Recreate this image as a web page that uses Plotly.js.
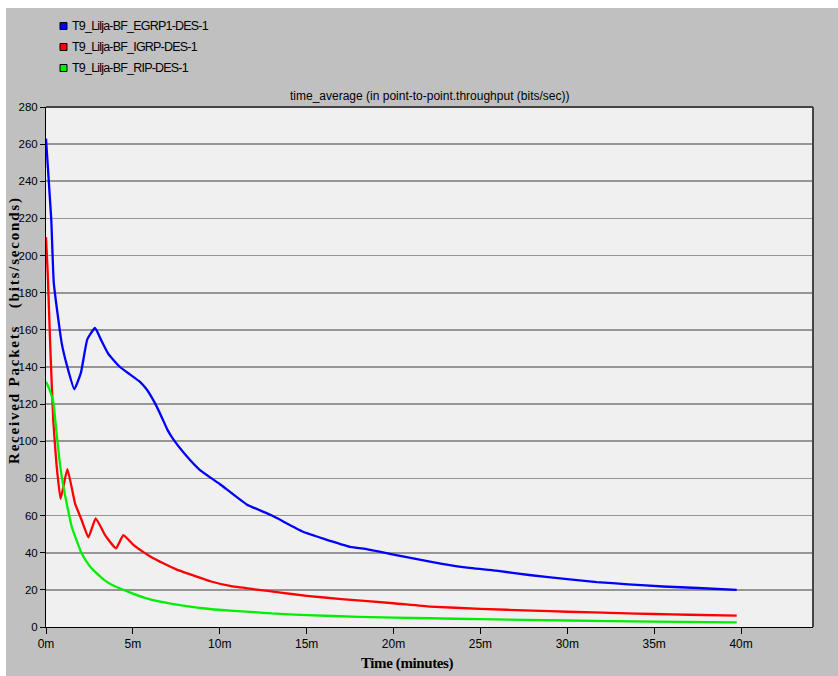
<!DOCTYPE html>
<html>
<head>
<meta charset="utf-8">
<script src="https://cdn.plot.ly/plotly-3.0.1.min.js"></script>
<style>
html,body{margin:0;padding:0;background:#ffffff;}
#chart{position:absolute;left:0;top:0;width:838px;height:676px;}
</style>
</head>
<body>
<div id="chart"></div>
<script>
// Series names
const seriesNames = ["T9_Lilja-BF_EGRP1-DES-1", "T9_Lilja-BF_IGRP-DES-1", "T9_Lilja-BF_RIP-DES-1"];
const seriesColors = ["#0000ff", "#ff0000", "#00ee00"];

// EGRP1 (blue) — time in minutes, value in bits/sec
const egrpTime = [0, 0.3, 0.45, 0.9, 1.2, 1.63, 2.01, 2.38, 2.82, 3.2, 3.59, 4.26, 4.83, 5.41, 5.79, 6.0, 6.3, 6.66, 7.0, 7.33, 8.0, 8.86, 10.0, 11.55, 13.0, 14.8, 16.0, 17.5, 18.5, 20.0, 22.1, 24.0, 25.9, 27.8, 30.0, 31.7, 33.5, 35.5, 37.5, 39.75];
const egrpValue = [263, 220, 185, 153, 141, 128, 137, 155, 161, 154, 147, 140, 136, 132, 128, 125, 120, 113, 106, 101, 93, 84.5, 77, 66, 60, 51.3, 47.5, 43.2, 41.8, 39, 35.2, 32.2, 30.3, 28, 25.8, 24.2, 23, 21.8, 21, 20];

// IGRP (red)
const igrpTime = [0, 0.1, 0.25, 0.42, 0.6, 0.84, 1.23, 1.67, 2.05, 2.44, 2.86, 3.4, 4.03, 4.45, 5.03, 5.5, 6.0, 6.75, 7.5, 8.67, 9.5, 10.59, 12.0, 13.5, 15.0, 17.0, 20.0, 22.1, 25.0, 28.0, 30.0, 33.0, 35.0, 37.0, 39.75];
const igrpValue = [210, 190, 150, 111, 88, 69, 85, 66.6, 57.6, 48.3, 58.5, 49.5, 42.4, 49.5, 44.2, 41, 38, 34.3, 31, 27.1, 24.5, 22.1, 20.3, 18.5, 16.8, 15, 12.8, 11, 9.8, 8.8, 8.2, 7.5, 7.0, 6.6, 6.1];

// RIP (green)
const ripTime = [0, 0.2, 0.42, 0.6, 0.8, 1.0, 1.48, 2.05, 2.5, 2.92, 3.4, 3.87, 5.0, 5.79, 6.5, 7.71, 9.0, 10.59, 12.0, 13.0, 15.0, 18.0, 22.1, 25.0, 30.0, 35.0, 39.75];
const ripValue = [132, 128, 121, 105, 88, 75.6, 54, 39.7, 33, 28.9, 25, 22.3, 18, 15.4, 13.8, 11.8, 10.1, 8.8, 8.0, 7.3, 6.4, 5.5, 4.7, 4.2, 3.5, 2.9, 2.5];

// Axis ticks
const xTickVals = [0, 5, 10, 15, 20, 25, 30, 35, 40];
const xTickText = ["0m", "5m", "10m", "15m", "20m", "25m", "30m", "35m", "40m"];
const yTickVals = [0, 20, 40, 60, 80, 100, 120, 140, 160, 180, 200, 220, 240, 260, 280];

const chartTitle = "time_average (in point-to-point.throughput (bits/sec))";
const yTitle = "Received Packets   (bits/seconds)";
const xTitle = "Time (minutes)";

const sans = "Liberation Sans, Arial, sans-serif";
const serif = "Liberation Serif, Times New Roman, serif";

const xs = [egrpTime, igrpTime, ripTime];
const ys = [egrpValue, igrpValue, ripValue];

const traces = xs.map((x, i) => ({
  x: x, y: ys[i], type: "scatter", mode: "lines",
  name: seriesNames[i], showlegend: false,
  line: {color: seriesColors[i], width: 2.3, shape: "spline", smoothing: 0.4},
  hoverinfo: "skip"
}));

// Page geometry (pixels) -> paper coords
const W = 838, H = 676;
const mL = 46, mR = 25, mT = 107, mB = 49;
const pw = W - mL - mR, ph = H - mT - mB;
function px2x(px){ return (px - mL) / pw; }
function py2y(py){ return 1 - (py - mT) / ph; }

const shapes = [];
const annotations = [];

// white page strips at top and left (outside the gray panel)
shapes.push({type: "rect", xref: "paper", yref: "paper", layer: "below",
  x0: px2x(0), x1: px2x(W), y0: py2y(8), y1: py2y(0), fillcolor: "#ffffff", line: {width: 0}});
shapes.push({type: "rect", xref: "paper", yref: "paper", layer: "below",
  x0: px2x(0), x1: px2x(6), y0: py2y(H), y1: py2y(0), fillcolor: "#ffffff", line: {width: 0}});

const legendY = [26, 47, 68];
seriesNames.forEach((n, i) => {
  shapes.push({type: "rect", xref: "paper", yref: "paper",
    x0: px2x(60), x1: px2x(67), y0: py2y(legendY[i] + 3.5), y1: py2y(legendY[i] - 3.5),
    fillcolor: seriesColors[i], line: {color: "#000", width: 1}});
  annotations.push({xref: "paper", yref: "paper", x: px2x(70), y: py2y(legendY[i]),
    xanchor: "left", yanchor: "middle", showarrow: false,
    text: '<span style="letter-spacing:-0.8px">' + n + '</span>',
    font: {family: sans, size: 12.5, color: "#000"}});
});
// frame top/right
shapes.push({type: "line", xref: "paper", yref: "paper", x0: 0, x1: 1, y0: 1, y1: 1, line: {color: "#444", width: 2}});
shapes.push({type: "line", xref: "paper", yref: "paper", x0: 1, x1: 1, y0: 0, y1: 1, line: {color: "#444", width: 2}});

annotations.push({xref: "paper", yref: "paper", x: 0.5, y: py2y(96), xanchor: "center", yanchor: "middle",
  showarrow: false, text: chartTitle, font: {family: sans, size: 12, color: "#000"}});
annotations.push({xref: "paper", yref: "paper", x: px2x(14), y: py2y(330), xanchor: "center", yanchor: "middle",
  showarrow: false, textangle: -90,
  text: '<span style="letter-spacing:1.8px"><b>' + yTitle + '</b></span>',
  font: {family: serif, size: 15, color: "#000"}});
annotations.push({xref: "paper", yref: "paper", x: px2x(407), y: py2y(663), xanchor: "center", yanchor: "middle",
  showarrow: false, text: '<span style="letter-spacing:-0.4px"><b>' + xTitle + '</b></span>',
  font: {family: serif, size: 15, color: "#000"}});

const layout = {
  width: W, height: H,
  margin: {l: mL, r: mR, t: mT, b: mB, pad: 0},
  paper_bgcolor: "#c0c0c0",
  plot_bgcolor: "#f0f0f0",
  font: {family: sans, size: 12, color: "#000"},
  showlegend: false,
  xaxis: {
    range: [0, 44.14], tickvals: xTickVals, ticktext: xTickText,
    showgrid: false, zeroline: false,
    showline: true, linecolor: "#000", linewidth: 1,
    ticks: "outside", ticklen: 6, tickcolor: "#000", tickwidth: 1,
    tickfont: {family: sans, size: 12, color: "#000"}, fixedrange: true
  },
  yaxis: {
    range: [0, 280], tickvals: yTickVals,
    showgrid: true, gridcolor: "#969696", gridwidth: 1.6, zeroline: false,
    showline: true, linecolor: "#000", linewidth: 1,
    ticks: "outside", ticklen: 5, tickcolor: "#000", tickwidth: 1,
    tickfont: {family: sans, size: 11.5, color: "#000"}, fixedrange: true
  },
  shapes: shapes,
  annotations: annotations
};

Plotly.newPlot("chart", traces, layout, {staticPlot: true, displayModeBar: false});
</script>
</body>
</html>
